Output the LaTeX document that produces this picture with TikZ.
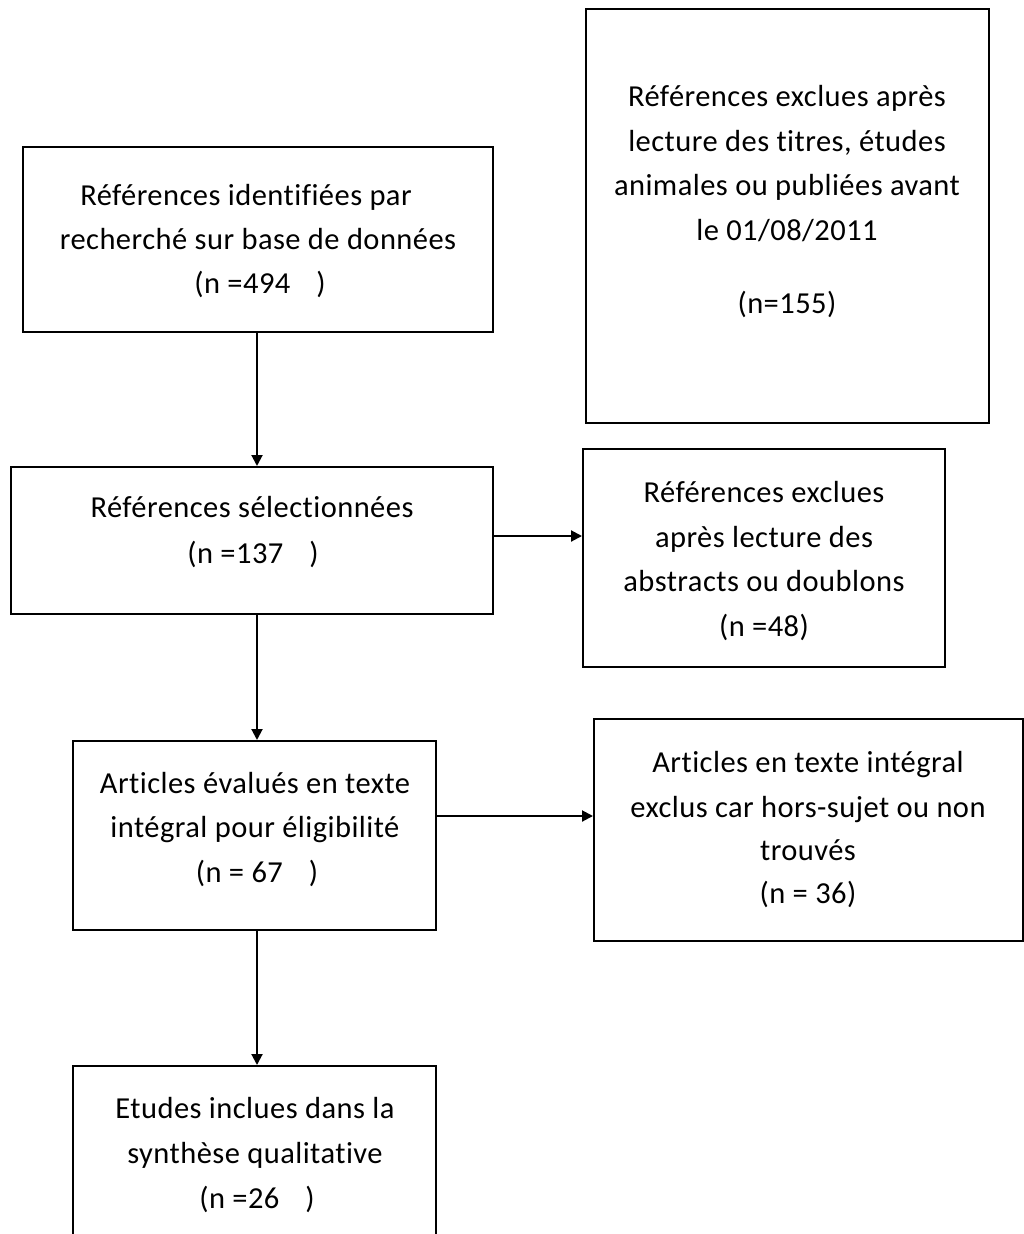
\documentclass[tikz,border=0pt]{standalone}
\usepackage{fontspec}
\setmainfont{Carlito}[LetterSpace=1.5,Ligatures={NoCommon,NoRare,NoContextual}]
\usetikzlibrary{arrows.meta}
\tikzset{
  box/.style={draw=black, line width=2pt, inner sep=0pt, rectangle},
  txt/.style={anchor=base, inner sep=0pt, font=\fontsize{30.5}{44}\selectfont, text=black},
  arr/.style={draw=black, line width=2pt, -{Triangle[length=11pt,width=11pt]}}
}
\newcommand{\gapn}{\hspace{0.85em}}
\begin{document}
\begin{tikzpicture}[x=1pt,y=-1pt]
\useasboundingbox (0,0) rectangle (1024,1234);
% boxes
\node[box, minimum width=470pt, minimum height=185pt] (b1) at (258,239.5) {};
\node[box, minimum width=403pt, minimum height=414pt] (b2) at (787.5,216) {};
\node[box, minimum width=482pt, minimum height=147pt] (b3) at (252,540.5) {};
\node[box, minimum width=362pt, minimum height=218pt] (b4) at (764,558) {};
\node[box, minimum width=363pt, minimum height=189pt] (b5) at (254.5,835.5) {};
\node[box, minimum width=429pt, minimum height=222pt] (b6) at (808.5,830) {};
\node[box, minimum width=363pt, minimum height=194pt] (b7) at (254.5,1163) {};
% texts
\node[txt] (t1a) at (246,205) {Références identifiées par};
\node[txt] (t1b) at (258,249) {recherché sur base de données};
\node[txt] (t1c) at (260,293) {(n =494\gapn)};
\node[txt] (t2a) at (787,106) {Références exclues après};
\node[txt] (t2b) at (787,151) {lecture des titres, études};
\node[txt] (t2c) at (787,195) {animales ou publiées avant};
\node[txt] (t2d) at (787,240) {le 01/08/2011};
\node[txt] (t2e) at (787,313) {(n=155)};
\node[txt] (t3a) at (252,517) {Références sélectionnées};
\node[txt] (t3b) at (253,563) {(n =137\gapn)};
\node[txt] (t4a) at (764,502) {Références exclues};
\node[txt] (t4b) at (764,547) {après lecture des};
\node[txt] (t4c) at (764,591) {abstracts ou doublons};
\node[txt] (t4d) at (764,636) {(n =48)};
\node[txt] (t5a) at (255,793) {Articles évalués en texte};
\node[txt] (t5b) at (255,837) {intégral pour éligibilité};
\node[txt] (t5c) at (257,882) {(n = 67\gapn)};
\node[txt] (t6a) at (808,772) {Articles en texte intégral};
\node[txt] (t6b) at (808,817) {exclus car hors-sujet ou non};
\node[txt] (t6c) at (808,860) {trouvés};
\node[txt] (t6d) at (808,903) {(n = 36)};
\node[txt] (t7a) at (255,1118) {Etudes inclues dans la};
\node[txt] (t7b) at (255,1163) {synthèse qualitative};
\node[txt] (t7c) at (257,1208) {(n =26\gapn)};
% connectors
\coordinate (vx) at (257,0);
\coordinate (h1) at (0,536);
\coordinate (h2) at (0,816);
\draw[arr] (vx |- b1.south) -- (vx |- b3.north);
\draw[arr] (vx |- b3.south) -- (vx |- b5.north);
\draw[arr] (vx |- b5.south) -- (vx |- b7.north);
\draw[arr] (b3.east |- h1) -- (b4.west |- h1);
\draw[arr] (b5.east |- h2) -- (b6.west |- h2);
\end{tikzpicture}
\end{document}
